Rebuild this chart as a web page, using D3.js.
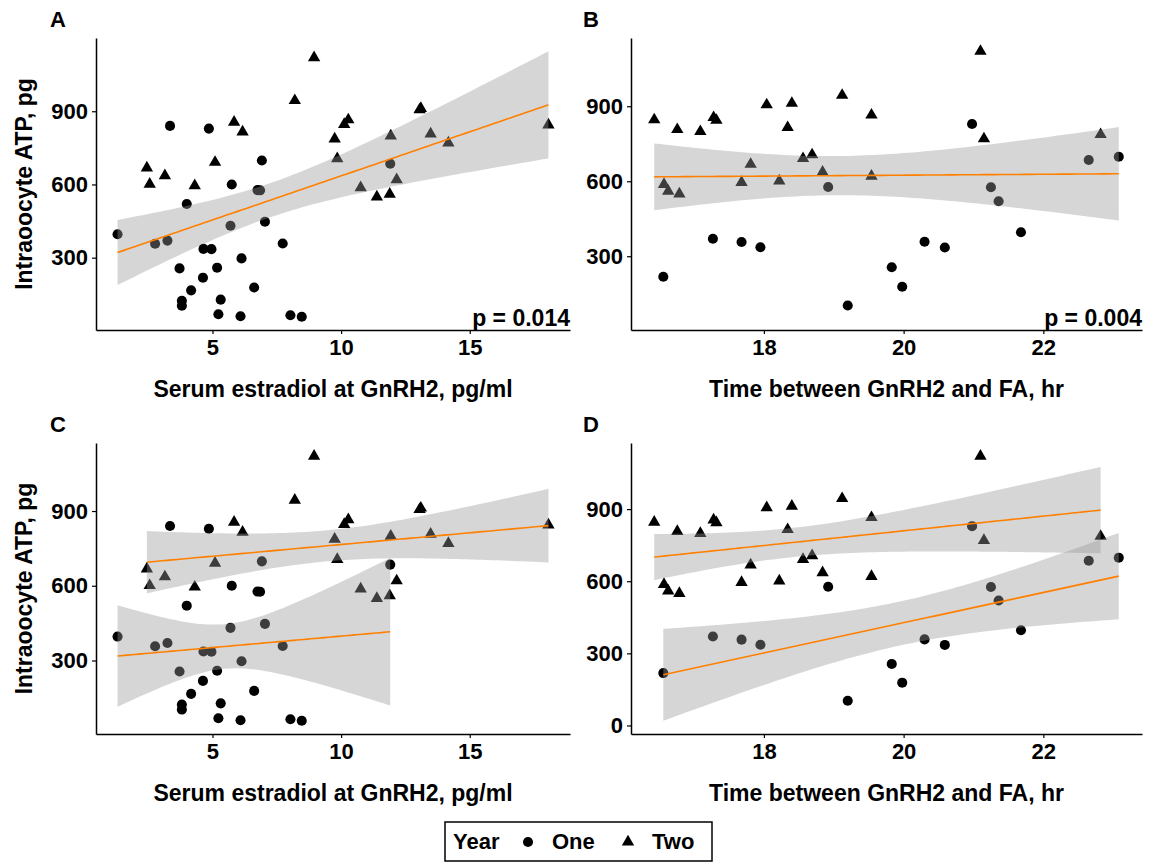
<!DOCTYPE html>
<html>
<head>
<meta charset="utf-8">
<script src="https://cdnjs.cloudflare.com/ajax/libs/d3/7.8.5/d3.min.js"></script>
<style>
  body { margin: 0; background: #fff; }
  text { font-family: "Liberation Sans", Arial, sans-serif; font-weight: bold; fill: #000; }
</style>
</head>
<body>
<script>
// one entry per oocyte: estradiol, hours (null = not recorded), ATP, year
var estradiol = [8.95, 8.20, 13.10, 13.05, 10.28, 5.84, 10.12, 18.06, 6.17, 13.48, 11.93, 9.75,
  14.17, 9.85, 5.10, 2.45, 3.15, 12.16, 2.56, 4.31, 10.76, 11.89, 11.39,
  3.35, 4.86, 6.92, 11.91, 5.75, 6.75, 6.85, 4.00, 1.31, 5.70, 7.04, 2.77, 3.25, 7.73,
  4.65, 4.96, 6.13, 3.72, 5.18, 4.63, 4.17, 6.62, 3.81, 3.81, 5.32, 5.23, 6.09, 8.03, 8.47];
var hours = [21.10, 19.12, 18.40, 18.04, 19.54, 17.28, 16.43, 17.32, 18.34, 16.76, 17.09, 22.82,
  21.15, 18.69, 18.56, 17.81, 18.84, 19.54, 18.22, 17.68, 16.57, 16.63, 16.79,
  null, 20.98, 23.08, 22.65, null, 18.92, 21.25, 21.36, 21.68, null, null, 17.68, 17.27, 20.30,
  17.95, 20.59, null, 19.83, null, 16.56, null, 19.98, null, 19.20, null, null, null, null, null];
var atp = [1120, 944, 912, 906, 865, 855, 846, 844, 815, 807, 799, 787,
  770, 706, 691, 668, 636, 620, 601, 595, 587, 560, 549,
  840, 829, 698, 685, 600, 577, 576, 520, 396, 431, 447, 357, 370, 358,
  336, 335, 297, 256, 259, 218, 166, 178, 123, 103, 128, 68, 60, 64, 58];
var year = ['Two', 'Two', 'Two', 'Two', 'Two', 'Two', 'Two', 'Two', 'Two', 'Two', 'Two', 'Two',
  'Two', 'Two', 'Two', 'Two', 'Two', 'Two', 'Two', 'Two', 'Two', 'Two', 'Two',
  'One', 'One', 'One', 'One', 'One', 'One', 'One', 'One', 'One', 'One', 'One', 'One', 'One', 'One',
  'One', 'One', 'One', 'One', 'One', 'One', 'One', 'One', 'One', 'One', 'One', 'One', 'One', 'One', 'One'];

var yearLevels = ['One', 'Two'];
var estTicks = [5, 10, 15];
var hrTicks = [18, 20, 22];
var atpTicks = [0, 300, 600, 900];
var xTitles = ['Serum estradiol at GnRH2, pg/ml', 'Time between GnRH2 and FA, hr'];
var yTitle = 'Intraoocyte ATP, pg';
var pValues = ['p = 0.014', 'p = 0.004'];

var width = 1150;
var height = 862;
var orange = '#ff8000';

var svg = d3.select('body').append('svg')
  .attr('width', width)
  .attr('height', height);

var rows = estradiol.map(function(e, i) {
  return {est: e, hr: hours[i], atp: atp[i], year: year[i]};
});

var panels = [
  {label: 'A', key: 'est', left: 96, top: 38, right: 570, bottom: 330, split: false, ticks: estTicks, title: xTitles[0], p: pValues[0], yTitle: true},
  {label: 'B', key: 'hr', left: 631, top: 38, right: 1142, bottom: 330, split: false, ticks: hrTicks, title: xTitles[1], p: pValues[1], yTitle: false},
  {label: 'C', key: 'est', left: 96, top: 443, right: 570, bottom: 734, split: true, ticks: estTicks, title: xTitles[0], p: null, yTitle: true},
  {label: 'D', key: 'hr', left: 631, top: 443, right: 1142, bottom: 734, split: true, ticks: hrTicks, title: xTitles[1], p: null, yTitle: false}
];

// t quantile (0.975) by Cornish-Fisher expansion
function tq(df) {
  var z = 1.959964;
  var z3 = z * z * z, z5 = z3 * z * z, z7 = z5 * z * z;
  return z + (z3 + z) / (4 * df) + (5 * z5 + 16 * z3 + 3 * z) / (96 * df * df) +
    (3 * z7 + 19 * z5 + 17 * z3 - 15 * z) / (384 * df * df * df);
}

// linear fit with 95% confidence band, like geom_smooth(method = 'lm')
function lmBand(pts) {
  var n = pts.length;
  var mx = d3.mean(pts, function(d) { return d.x; });
  var my = d3.mean(pts, function(d) { return d.y; });
  var sxx = d3.sum(pts, function(d) { return (d.x - mx) * (d.x - mx); });
  var sxy = d3.sum(pts, function(d) { return (d.x - mx) * (d.y - my); });
  var b = sxy / sxx, a = my - b * mx;
  var sse = d3.sum(pts, function(d) { var r = d.y - a - b * d.x; return r * r; });
  var s = Math.sqrt(sse / (n - 2));
  var t = tq(n - 2);
  var ext = d3.extent(pts, function(d) { return d.x; });
  return d3.range(80).map(function(i) {
    var x = ext[0] + (ext[1] - ext[0]) * i / 79;
    var f = a + b * x;
    var se = s * Math.sqrt(1 / n + (x - mx) * (x - mx) / sxx);
    return {x: x, y: f, lo: f - t * se, hi: f + t * se};
  });
}

function expand(ext) {
  var pad = (ext[1] - ext[0]) * 0.05;
  return [ext[0] - pad, ext[1] + pad];
}

var triangle = d3.symbol().type(d3.symbolTriangle).size(66);
var circle = d3.symbol().type(d3.symbolCircle).size(80);

panels.forEach(function(p) {
  var valid = rows.filter(function(d) { return d[p.key] != null; });
  var groups = p.split ? yearLevels.map(function(lv) {
    return valid.filter(function(d) { return d.year === lv; });
  }) : [valid];
  var fits = groups.map(function(g) {
    return lmBand(g.map(function(d) { return {x: d[p.key], y: d.atp}; }));
  });

  // y scale is trained on every ATP value plus the bands
  var yVals = atp.slice();
  fits.forEach(function(f) {
    f.forEach(function(d) { yVals.push(d.lo, d.hi); });
  });
  var x = d3.scaleLinear()
    .domain(expand(d3.extent(valid, function(d) { return d[p.key]; })))
    .range([p.left, p.right]);
  var y = d3.scaleLinear()
    .domain(expand(d3.extent(yVals)))
    .range([p.bottom, p.top]);

  var g = svg.append('g');

  // points
  g.selectAll('path.pt').data(valid)
    .enter().append('path')
    .attr('class', 'pt')
    .attr('transform', function(d) { return 'translate(' + x(d[p.key]) + ',' + y(d.atp) + ')'; })
    .attr('d', function(d) { return d.year === 'One' ? circle() : triangle(); })
    .attr('fill', '#000');

  // bands and fit lines
  var area = d3.area()
    .x(function(d) { return x(d.x); })
    .y0(function(d) { return y(d.lo); })
    .y1(function(d) { return y(d.hi); });
  var line = d3.line()
    .x(function(d) { return x(d.x); })
    .y(function(d) { return y(d.y); });
  fits.forEach(function(f) {
    g.append('path').attr('d', area(f))
      .attr('fill', '#999999').attr('fill-opacity', 0.4);
  });
  fits.forEach(function(f) {
    g.append('path').attr('d', line(f))
      .attr('fill', 'none').attr('stroke', orange).attr('stroke-width', 1.6);
  });

  // axes
  var xAxis = d3.axisBottom(x)
    .tickValues(p.ticks.filter(function(t) { return t >= x.domain()[0] && t <= x.domain()[1]; }))
    .tickSize(4).tickSizeOuter(0).tickPadding(5);
  var yAxis = d3.axisLeft(y)
    .tickValues(atpTicks.filter(function(t) { return t >= y.domain()[0] && t <= y.domain()[1]; }))
    .tickSize(4).tickSizeOuter(0).tickPadding(4);

  var gx = g.append('g').attr('transform', 'translate(0,' + p.bottom + ')').call(xAxis);
  var gy = g.append('g').attr('transform', 'translate(' + p.left + ',0)').call(yAxis);
  [gx, gy].forEach(function(ax) {
    ax.select('.domain').attr('stroke', '#000').attr('stroke-width', 1.5);
    ax.selectAll('.tick line').attr('stroke', '#000').attr('stroke-width', 1.2);
    ax.selectAll('.tick text')
      .attr('font-family', '"Liberation Sans", Arial, sans-serif')
      .attr('font-weight', 'bold')
      .attr('font-size', 22)
      .attr('fill', '#000');
  });

  // titles and labels
  g.append('text')
    .attr('x', (p.left + p.right) / 2)
    .attr('y', p.bottom + 67)
    .attr('text-anchor', 'middle')
    .attr('font-size', 23)
    .text(p.title);
  if (p.yTitle) {
    g.append('text')
      .attr('transform', 'translate(32,' + (p.top + p.bottom) / 2 + ') rotate(-90)')
      .attr('text-anchor', 'middle')
      .attr('font-size', 23)
      .text(yTitle);
  }
  g.append('text')
    .attr('x', p.left < 300 ? 50 : 583)
    .attr('y', p.top - 11)
    .attr('font-size', 22)
    .text(p.label);
  if (p.p) {
    g.append('text')
      .attr('x', p.right)
      .attr('y', p.bottom - 4)
      .attr('text-anchor', 'end')
      .attr('font-size', 23)
      .text(p.p);
  }
});

// legend
var legend = svg.append('g').attr('transform', 'translate(445,822)');
legend.append('rect')
  .attr('width', 267).attr('height', 39)
  .attr('fill', '#fff').attr('stroke', '#000').attr('stroke-width', 1.5);
legend.append('text').attr('x', 8).attr('y', 27).attr('font-size', 22).text('Year');
var keys = legend.selectAll('g.key').data(yearLevels)
  .enter().append('g')
  .attr('class', 'key')
  .attr('transform', function(d, i) { return 'translate(' + (83 + i * 100) + ',20)'; });
keys.append('path')
  .attr('d', function(d) { return d === 'One' ? circle() : triangle(); })
  .attr('fill', '#000');
keys.append('text').attr('x', 24).attr('y', 7).attr('font-size', 22)
  .text(function(d) { return d; });
</script>
</body>
</html>
